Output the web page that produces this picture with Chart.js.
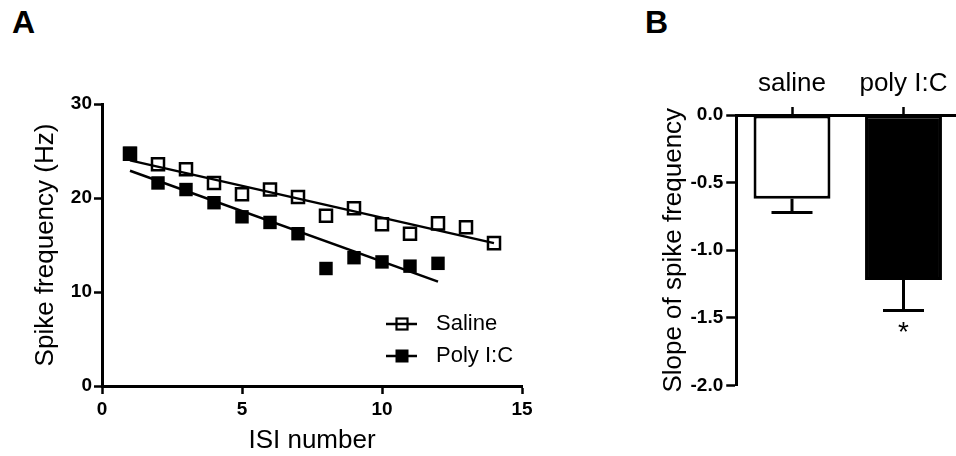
<!DOCTYPE html>
<html>
<head>
<meta charset="utf-8">
<script src="https://cdn.jsdelivr.net/npm/chart.js@4.4.1/dist/chart.umd.min.js"></script>
<style>
  html, body { margin: 0; padding: 0; background: #fff; }
  body { width: 956px; height: 456px; position: relative; overflow: hidden; }
  .panel { position: absolute; font-family: 'Liberation Sans', Arial, sans-serif; font-weight: bold; font-size: 32px; line-height: 32px; color: #000; }
  #wrapA { position: absolute; left: 0; top: 0; width: 560px; height: 456px; }
  #wrapB { position: absolute; left: 640px; top: 0; width: 340px; height: 456px; }
</style>
</head>
<body>
<div class="panel" style="left:12px; top:6px;">A</div>
<div class="panel" style="left:645px; top:6px;">B</div>
<div id="wrapA"><canvas id="chartA" width="560" height="456"></canvas></div>
<div id="wrapB"><canvas id="chartB" width="340" height="456"></canvas></div>
<script>
// ---------- Panel A data ----------
const salineIsi = [1, 2, 3, 4, 5, 6, 7, 8, 9, 10, 11, 12, 13, 14];
const salineHz  = [24.7, 23.6, 23.05, 21.6, 20.4, 20.9, 20.1, 18.1, 18.9, 17.2, 16.2, 17.3, 16.9, 15.2];
const polyIsi   = [1, 2, 3, 4, 5, 6, 7, 8, 9, 10, 11, 12];
const polyHz    = [24.75, 21.6, 20.9, 19.5, 18.0, 17.4, 16.2, 12.5, 13.65, 13.2, 12.75, 13.05];
const salineFitIsi = [1, 14];
const salineFitHz  = [24.0, 15.2];
const polyFitIsi   = [1, 12];
const polyFitHz    = [22.9, 11.1];
const xTicksA = [0, 5, 10, 15];
const yTicksA = [0, 10, 20, 30];
const seriesNames = ['Saline', 'Poly I:C'];

// ---------- Panel B data ----------
const groups    = ['saline', 'poly I:C'];
const slopeMean = [-0.62, -1.22];
const slopeSem  = [0.10, 0.225];
const sigMarks  = ['', '*'];
const yTicksB   = [0, -0.5, -1.0, -1.5, -2.0];

const FONT = "'Liberation Sans', Arial, sans-serif";
Chart.defaults.font.family = FONT;
Chart.defaults.color = '#000';
Chart.defaults.animation = false;

const toPts = (xs, ys) => xs.map((x, i) => ({ x: x, y: ys[i] }));

const legendPlugin = {
  id: 'insideLegend',
  afterDraw(chart) {
    const ctx = chart.ctx;
    const ca = chart.chartArea;
    const items = [
      { text: seriesNames[0], filled: false, y: ca.bottom - 62 },
      { text: seriesNames[1], filled: true,  y: ca.bottom - 30 }
    ];
    const cx = ca.right - 120;
    ctx.save();
    items.forEach(it => {
      ctx.strokeStyle = '#000';
      ctx.lineWidth = 2.5;
      ctx.beginPath();
      ctx.moveTo(cx - 16, it.y);
      ctx.lineTo(cx + 15, it.y);
      ctx.stroke();
      if (it.filled) {
        ctx.fillStyle = '#000';
        ctx.fillRect(cx - 6.5, it.y - 6.5, 13, 13);
      } else {
        ctx.lineWidth = 2.2;
        ctx.strokeRect(cx - 5.5, it.y - 5.5, 11, 11);
      }
      ctx.fillStyle = '#000';
      ctx.font = '22px ' + FONT;
      ctx.textAlign = 'left';
      ctx.textBaseline = 'middle';
      ctx.fillText(it.text, cx + 34, it.y);
    });
    ctx.restore();
  }
};

new Chart(document.getElementById('chartA'), {
  type: 'scatter',
  data: {
    datasets: [
      { label: seriesNames[1], data: toPts(polyIsi, polyHz), order: 0,
        pointStyle: 'rect', pointRadius: 9.5, pointBackgroundColor: '#000', pointBorderWidth: 0, showLine: false },
      { label: seriesNames[0], data: toPts(salineIsi, salineHz), order: 1,
        pointStyle: 'rect', pointRadius: 8.5, pointBackgroundColor: 'rgba(0,0,0,0)', pointBorderColor: '#000', pointBorderWidth: 2.5, showLine: false },
      { label: 'fitSaline', data: toPts(salineFitIsi, salineFitHz), order: 2,
        showLine: true, borderColor: '#000', borderWidth: 2.5, pointRadius: 0 },
      { label: 'fitPoly', data: toPts(polyFitIsi, polyFitHz), order: 3,
        showLine: true, borderColor: '#000', borderWidth: 2.5, pointRadius: 0 }
    ]
  },
  options: {
    responsive: false,
    layout: { padding: { left: 28, top: 104, right: 38, bottom: 0 } },
    plugins: { legend: { display: false }, tooltip: { enabled: false } },
    scales: {
      x: {
        type: 'linear', min: 0, max: 15,
        afterFit: s => { s.height = 70; },
        afterBuildTicks: s => { s.ticks = xTicksA.map(v => ({ value: v })); },
        border: { display: true, color: '#000', width: 3 },
        grid: { drawOnChartArea: false, drawTicks: true, tickLength: 8, tickWidth: 2.5, tickColor: '#000' },
        ticks: { font: { size: 19, weight: 'bold' }, padding: 4, color: '#000' },
        title: { display: true, text: 'ISI number', font: { size: 26 }, padding: { top: 0, bottom: 0 }, color: '#000' }
      },
      y: {
        type: 'linear', min: 0, max: 30,
        afterFit: s => { s.width = 74; },
        afterBuildTicks: s => { s.ticks = yTicksA.map(v => ({ value: v })); },
        border: { display: true, color: '#000', width: 3 },
        grid: { drawOnChartArea: false, drawTicks: true, tickLength: 8, tickWidth: 2.5, tickColor: '#000' },
        ticks: { font: { size: 19, weight: 'bold' }, padding: 2, color: '#000' },
        title: { display: true, text: 'Spike frequency (Hz)', font: { size: 26 }, padding: { top: 2, bottom: 0 }, color: '#000' }
      }
    }
  },
  plugins: [legendPlugin]
});

const errorBarPlugin = {
  id: 'errorBars',
  afterDatasetsDraw(chart) {
    const ctx = chart.ctx;
    const meta = chart.getDatasetMeta(0);
    const yS = chart.scales.y;
    ctx.save();
    ctx.strokeStyle = '#000';
    ctx.lineWidth = 3;
    meta.data.forEach((bar, i) => {
      const yMean = yS.getPixelForValue(slopeMean[i]);
      const yErr = yS.getPixelForValue(slopeMean[i] - slopeSem[i]);
      ctx.beginPath();
      ctx.moveTo(bar.x, yMean);
      ctx.lineTo(bar.x, yErr);
      ctx.moveTo(bar.x - 20.5, yErr);
      ctx.lineTo(bar.x + 20.5, yErr);
      ctx.stroke();
      if (sigMarks[i]) {
        ctx.fillStyle = '#000';
        ctx.font = '28px ' + FONT;
        ctx.textAlign = 'center';
        ctx.textBaseline = 'alphabetic';
        ctx.fillText(sigMarks[i], bar.x, yErr + 31);
      }
    });
    ctx.restore();
  }
};

new Chart(document.getElementById('chartB'), {
  type: 'bar',
  data: {
    labels: groups,
    datasets: [{
      data: slopeMean,
      backgroundColor: ['#ffffff', '#000000'],
      borderColor: '#000',
      borderWidth: 3,
      borderSkipped: false,
      barPercentage: 0.69,
      categoryPercentage: 1.0
    }]
  },
  options: {
    responsive: false,
    layout: { padding: { left: 16, top: 0, right: 20.75, bottom: 70.5 } },
    plugins: { legend: { display: false }, tooltip: { enabled: false } },
    scales: {
      x: {
        type: 'category', position: 'top', offset: true,
        afterFit: s => { s.height = 115; },
        border: { display: true, color: '#000', width: 3 },
        grid: { drawOnChartArea: false, drawTicks: true, tickLength: 8, tickWidth: 2.5, tickColor: '#000', offset: false },
        ticks: { font: { size: 26 }, padding: 8, color: '#000' }
      },
      y: {
        type: 'linear', min: -2, max: 0,
        afterFit: s => { s.width = 80.25; },
        afterBuildTicks: s => { s.ticks = yTicksB.map(v => ({ value: v })); },
        border: { display: true, color: '#000', width: 3 },
        grid: { drawOnChartArea: false, drawTicks: true, tickLength: 10, tickWidth: 2.5, tickColor: '#000' },
        ticks: { font: { size: 19, weight: 'bold' }, padding: 3, color: '#000', callback: v => Number(v).toFixed(1) },
        title: { display: true, text: 'Slope of spike frequency', font: { size: 26 }, padding: { top: 2, bottom: 0 }, color: '#000' }
      }
    }
  },
  plugins: [errorBarPlugin]
});
</script>
</body>
</html>
